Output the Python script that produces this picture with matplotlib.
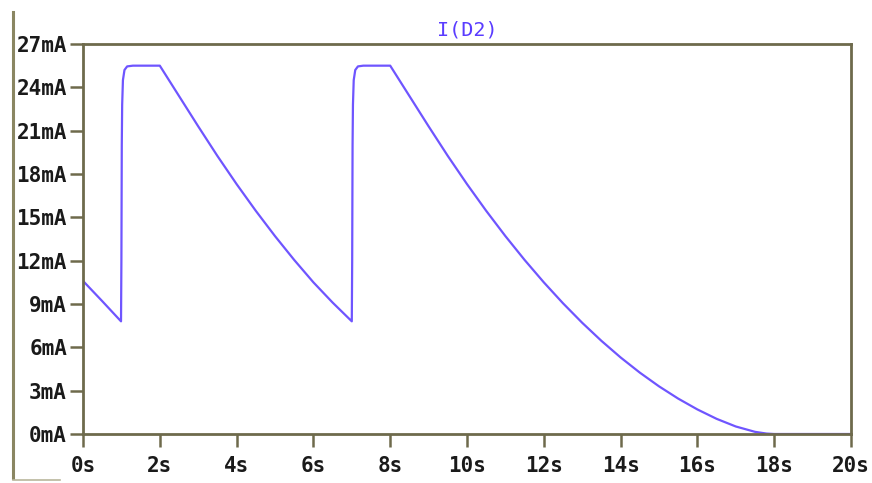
import matplotlib
matplotlib.use("Agg")
import matplotlib.pyplot as plt
from matplotlib.lines import Line2D

# Data (time in s, current in mA)
t_vals = [0.0, 0.5, 0.99, 1.0, 1.01, 1.02, 1.04, 1.08, 1.15, 1.3, 2.0,
          2.5, 3.0, 3.5, 4.0, 4.5, 5.0, 5.5, 6.0, 6.5, 7.0,
          7.01, 7.02, 7.03, 7.05, 7.09, 7.16, 7.3, 8.0,
          8.5, 9.0, 9.5, 10.0, 10.5, 11.0, 11.5, 12.0, 12.5, 13.0,
          13.5, 14.0, 14.5, 15.0, 15.5, 16.0, 16.5, 17.0, 17.5, 17.8, 18.0, 19.0, 20.0]
i_vals = [10.6, 9.2, 7.8, 12.0, 20.0, 22.8, 24.5, 25.2, 25.45, 25.5, 25.5,
          23.4, 21.3, 19.25, 17.3, 15.45, 13.7, 12.05, 10.5, 9.1, 7.8,
          12.0, 20.0, 22.8, 24.5, 25.2, 25.45, 25.5, 25.5,
          23.4, 21.3, 19.25, 17.3, 15.45, 13.7, 12.05, 10.5, 9.05, 7.7,
          6.45, 5.3, 4.25, 3.3, 2.45, 1.7, 1.05, 0.52, 0.15, 0.03, 0.0, 0.0, 0.0]

x_ticks = [0, 2, 4, 6, 8, 10, 12, 14, 16, 18, 20]
x_labels = ["0s", "2s", "4s", "6s", "8s", "10s", "12s", "14s", "16s", "18s", "20s"]
y_ticks = [0, 3, 6, 9, 12, 15, 18, 21, 24, 27]
y_labels = ["0mA", "3mA", "6mA", "9mA", "12mA", "15mA", "18mA", "21mA", "24mA", "27mA"]
title = "I(D2)"

frame_col = "#6e6a4c"
line_col = "#6f55ff"
text_col = "#1a1a1a"

fig = plt.figure(figsize=(8.72, 4.83), dpi=100)
ax = fig.add_axes([83/872, 49/483, 768/872, 390/483])

ax.plot(t_vals, i_vals, color=line_col, lw=1.6, solid_joinstyle="round")

ax.set_xlim(0, 20)
ax.set_ylim(0, 27)
ax.set_xticks(x_ticks)
ax.set_xticklabels(x_labels)
ax.set_yticks(y_ticks)
ax.set_yticklabels(y_labels)

for s in ax.spines.values():
    s.set_color(frame_col)
    s.set_linewidth(2.0)

ax.tick_params(axis="both", direction="out", length=9.5, width=1.8,
               color=frame_col, labelcolor=text_col, labelsize=15)
ax.tick_params(axis="y", pad=2)
ax.tick_params(axis="x", pad=6)
for lab in ax.get_xticklabels() + ax.get_yticklabels():
    lab.set_family("DejaVu Sans Mono")
    lab.set_fontweight("bold")

ax.set_title(title, color="#5a3cff", fontsize=14.5, family="DejaVu Sans Mono",
             pad=6)

# outer window frame (left edge & bottom-left)
fig.add_artist(Line2D([13/872, 13/872], [1 - 12/483, 1 - 478/483],
                      transform=fig.transFigure, color="#8a8662", lw=2.2))
fig.add_artist(Line2D([13/872, 60/872], [1 - 480/483, 1 - 480/483],
                      transform=fig.transFigure, color="#b9b69c", lw=1.2))

fig.savefig("out.png", dpi=100, facecolor="white")
